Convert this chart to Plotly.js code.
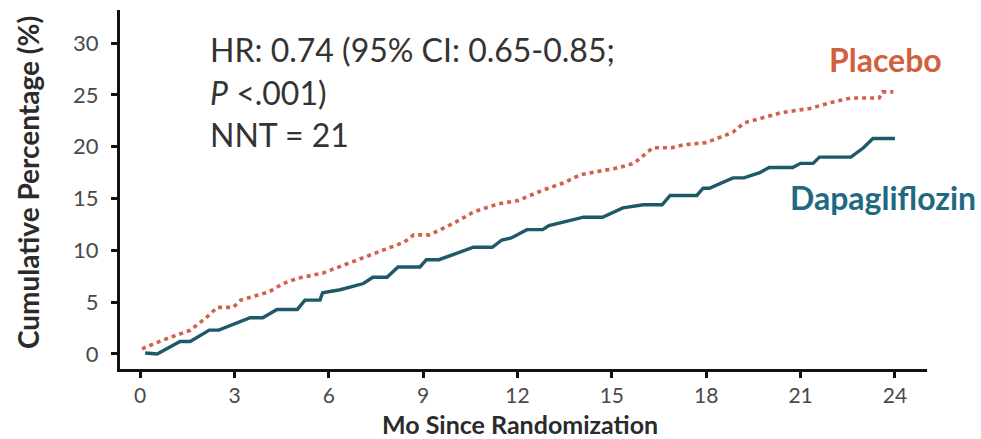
<!DOCTYPE html>
<html>
<head>
<meta charset="utf-8">
<script src="https://cdn.plot.ly/plotly-3.0.1.min.js"></script>
<style>
  html, body { margin: 0; padding: 0; background: #ffffff; }
  #chart { width: 981px; height: 439px; }
</style>
</head>
<body>
<div id="chart"></div>
<script>
// Cumulative incidence, months since randomization
const placeboMonths = [0.06, 0.73, 1.6, 2.1, 2.45, 2.96, 3.2, 4.1, 4.55, 5.0, 5.8, 7.3, 8.4, 8.7, 9.2, 9.96, 10.6, 11.4, 12.0, 12.8, 13.45, 14.0, 14.7, 15.25, 15.7, 16.0, 16.3, 16.9, 17.3, 18.0, 18.85, 19.2, 20.4, 21.3, 22.0, 22.6, 23.5, 23.6, 23.95];
const placeboPct = [0.5, 1.35, 2.3, 3.5, 4.5, 4.5, 5.2, 6.0, 6.8, 7.3, 7.8, 9.5, 10.8, 11.5, 11.5, 12.6, 13.7, 14.5, 14.8, 15.8, 16.5, 17.3, 17.7, 18.0, 18.4, 19.2, 19.9, 19.9, 20.2, 20.4, 21.4, 22.3, 23.3, 23.7, 24.3, 24.7, 24.7, 25.3, 25.3];

const dapaMonths = [0.16, 0.54, 1.27, 1.59, 2.2, 2.5, 3.5, 3.9, 4.35, 5.0, 5.24, 5.72, 5.8, 6.36, 7.1, 7.4, 7.85, 8.2, 8.9, 9.1, 9.5, 10.6, 11.2, 11.5, 11.8, 12.3, 12.8, 13.0, 14.1, 14.7, 15.35, 16.0, 16.6, 16.85, 17.7, 17.9, 18.1, 18.85, 19.2, 19.7, 20.0, 20.75, 21.0, 21.4, 21.6, 22.6, 23.0, 23.3, 24.0];
const dapaPct = [0.1, 0, 1.2, 1.2, 2.3, 2.3, 3.5, 3.5, 4.3, 4.3, 5.2, 5.2, 5.9, 6.2, 6.8, 7.4, 7.4, 8.4, 8.4, 9.1, 9.1, 10.3, 10.3, 11.0, 11.2, 12.0, 12.0, 12.4, 13.2, 13.2, 14.1, 14.4, 14.4, 15.3, 15.3, 16.0, 16.0, 17.0, 17.0, 17.5, 18.0, 18.0, 18.4, 18.4, 19.0, 19.0, 19.9, 20.8, 20.8];

const xTicks = [0, 3, 6, 9, 12, 15, 18, 21, 24];
const yTicks = [0, 5, 10, 15, 20, 25, 30];

const statLines = ['HR: 0.74 (95% CI: 0.65-0.85;', '<i>P</i> <.001)', 'NNT = 21'];
const seriesNames = ['Placebo', 'Dapagliflozin'];
const xTitle = 'Mo Since Randomization';
const yTitle = 'Cumulative Percentage (%)';

const PLACEBO_COLOR = '#d2604a';
const DAPA_COLOR = '#1d5966';
const FONT = 'Lato, "Open Sans", sans-serif';

const traces = [
  {
    x: placeboMonths, y: placeboPct, name: seriesNames[0],
    type: 'scatter', mode: 'lines',
    line: { color: PLACEBO_COLOR, width: 3.6, dash: '4px,4px' }
  },
  {
    x: dapaMonths, y: dapaPct, name: seriesNames[1],
    type: 'scatter', mode: 'lines',
    line: { color: DAPA_COLOR, width: 3.4 }
  }
];

const statY = [0.889, 0.769, 0.652];
const annotations = statLines.map((t, i) => ({
  text: t, xref: 'paper', yref: 'paper', x: 0.109, y: statY[i],
  xanchor: 'left', yanchor: 'middle', showarrow: false,
  font: { family: FONT, size: 32, color: '#333333' }
}));
annotations.push({
  text: '<b>' + seriesNames[0] + '</b>', xref: 'paper', yref: 'paper',
  x: 0.949, y: 0.861, xanchor: 'center', yanchor: 'middle', showarrow: false,
  font: { family: FONT, size: 32, color: '#d25f3e' }
});
annotations.push({
  text: '<b>' + seriesNames[1] + '</b>', xref: 'paper', yref: 'paper',
  x: 0.946, y: 0.479, xanchor: 'center', yanchor: 'middle', showarrow: false,
  font: { family: FONT, size: 32, color: '#1f6a80' }
});
// axis titles placed as annotations for exact positioning
annotations.push({
  text: '<b>' + xTitle + '</b>', xref: 'paper', yref: 'paper',
  x: 0.4957, y: -0.1532, xanchor: 'center', yanchor: 'middle', showarrow: false,
  font: { family: FONT, size: 25, color: '#2b2b2b' }
});
annotations.push({
  text: '<b>' + yTitle + '</b>', xref: 'paper', yref: 'paper', textangle: -90,
  x: -0.114, y: 0.518, xanchor: 'center', yanchor: 'middle', showarrow: false,
  font: { family: FONT, size: 28, color: '#2b2b2b' }
});

const layout = {
  width: 981, height: 439,
  margin: { l: 120, r: 54, t: 10, b: 70 },
  paper_bgcolor: '#ffffff', plot_bgcolor: '#ffffff',
  showlegend: false,
  font: { family: FONT, color: '#444444' },
  xaxis: {
    range: [-0.64, 25.02], tickvals: xTicks, ticktext: xTicks.map(String),
    showgrid: false, zeroline: false,
    showline: true, linecolor: '#111111', linewidth: 3,
    ticks: 'outside', ticklen: 6, tickwidth: 3, tickcolor: '#111111',
    ticklabelstandoff: 0,
    tickfont: { family: FONT, size: 21, color: '#4a4a4a' }
  },
  yaxis: {
    range: [-1.45, 33.2], tickvals: yTicks, ticktext: yTicks.map(String),
    showgrid: false, zeroline: false,
    showline: true, linecolor: '#111111', linewidth: 3,
    ticks: 'outside', ticklen: 6, tickwidth: 3, tickcolor: '#111111',
    ticklabelstandoff: 8,
    tickfont: { family: FONT, size: 22, color: '#4a4a4a' }
  },
  annotations: annotations
};

Plotly.newPlot('chart', traces, layout, { displayModeBar: false, staticPlot: true });
</script>
</body>
</html>
